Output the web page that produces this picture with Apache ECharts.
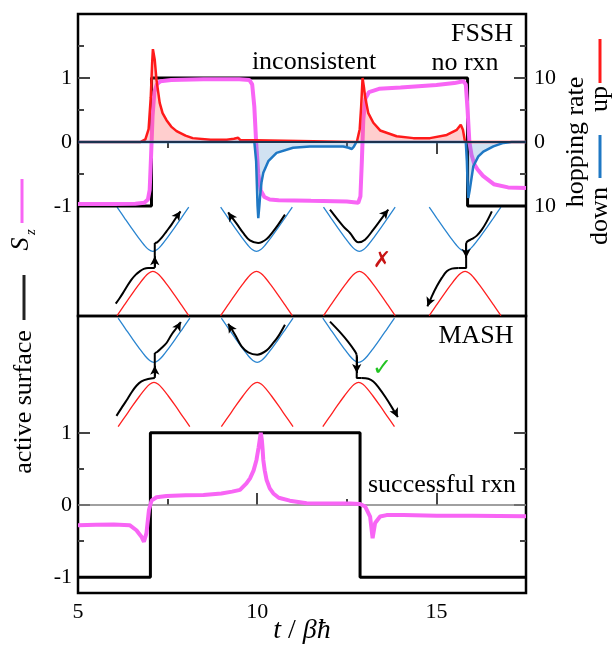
<!DOCTYPE html>
<html><head><meta charset="utf-8">
<script src="https://cdn.jsdelivr.net/npm/echarts@6/dist/echarts.min.js"></script>
<style>html,body{margin:0;padding:0;background:#fff}#c{width:612px;height:646px}</style>
</head><body><div id="c"></div>
<script>
// ---------------- DATA ----------------
const xMajorTicks = [10, 15];
const xMinorTicks = [7.5, 12.5];
const xLabels = [5, 10, 15];
const topYMajor = [-1, 0, 1];
const topYMinor = [-0.5, 0.5, 1.5];
const rateMajor = [-10, 0, 10];
const rateMinor = [-5, 5, 15];
const botYMajor = [-1, 0, 1];
const botYMinor = [-0.5, 0.5];
const xRange = [5, 17.5];

// FSSH panel
const fsshActive = [[5,-1],[7.05,-1],[7.05,1],[15.87,1],[15.87,-1],[17.5,-1]];
const fsshSz = [[5.0,-0.97],[6.0,-0.97],[6.6,-0.965],[6.85,-0.95],[6.95,-0.9],[7.0,-0.75],[7.04,-0.2],[7.08,0.4],[7.13,0.78],[7.2,0.9],[7.3,0.95],[7.6,0.97],[8.5,0.98],[9.5,0.98],[9.78,0.97],[9.86,0.9],[9.92,0.55],[9.97,0.0],[10.03,-0.5],[10.1,-0.76],[10.2,-0.86],[10.35,-0.9],[10.6,-0.91],[11.5,-0.92],[12.5,-0.93],[12.82,-0.95],[12.88,-0.85],[12.92,-0.3],[12.96,0.35],[13.02,0.68],[13.12,0.78],[13.4,0.83],[14.0,0.85],[14.5,0.87],[15.0,0.89],[15.5,0.92],[15.75,0.95],[15.82,0.9],[15.87,0.5],[15.92,0.0],[15.98,-0.2],[16.06,-0.35],[16.15,-0.43],[16.3,-0.53],[16.6,-0.66],[17.0,-0.71],[17.5,-0.72]];
const fsshUpRate = [[5,0],[6.75,0],[6.88,0.4],[6.97,2],[7.03,7],[7.07,12.5],[7.09,14.5],[7.14,12.9],[7.19,9.7],[7.28,6.1],[7.36,4.5],[7.47,3.4],[7.6,2.4],[7.75,1.7],[8.0,1.0],[8.2,0.6],[8.7,0.35],[9.15,0.35],[9.35,0.5],[9.47,0.65],[9.53,0.3],[9.58,0],[12.78,0],[12.86,2],[12.9,5.5],[12.94,10],[12.98,8.5],[13.01,7.1],[13.1,4.5],[13.24,3.0],[13.43,1.8],[13.89,0.9],[14.36,0.6],[14.82,0.6],[15.29,1.1],[15.57,1.9],[15.68,2.7],[15.74,1.9],[15.8,0],[17.5,0]];
const fsshDownRate = [[5,0],[9.92,0],[9.97,-3],[10.01,-10],[10.03,-11.9],[10.06,-10],[10.08,-8.5],[10.12,-6.3],[10.17,-4.8],[10.31,-3.0],[10.54,-1.7],[11.0,-0.9],[11.47,-0.7],[11.94,-0.7],[12.4,-0.7],[12.55,-0.9],[12.64,-1.1],[12.7,-0.7],[12.77,0],[15.82,0],[15.85,-3],[15.87,-6.5],[15.89,-8.75],[15.93,-7.5],[15.96,-6.4],[16.03,-3.8],[16.17,-2.25],[16.31,-1.5],[16.59,-0.7],[16.87,-0.15],[17.1,0],[17.5,0]];

// MASH panel
const mashActive = [[5,-1],[7.02,-1],[7.02,1],[12.87,1],[12.87,-1],[17.5,-1]];
const mashSz = [[5,-0.28],[5.5,-0.275],[6.0,-0.27],[6.44,-0.28],[6.63,-0.35],[6.77,-0.44],[6.84,-0.51],[6.91,-0.39],[6.98,-0.07],[7.05,0.06],[7.19,0.107],[7.47,0.125],[8.0,0.135],[8.5,0.14],[9.0,0.16],[9.3,0.185],[9.52,0.21],[9.7,0.3],[9.8,0.37],[9.9,0.48],[9.98,0.625],[10.04,0.8],[10.07,0.9],[10.1,1.0],[10.13,0.9],[10.15,0.78],[10.17,0.625],[10.21,0.48],[10.26,0.35],[10.35,0.23],[10.45,0.16],[10.6,0.1],[10.91,0.06],[11.38,0.025],[12.0,0.02],[12.6,0.02],[12.87,0.015],[13.01,-0.02],[13.15,-0.16],[13.22,-0.46],[13.29,-0.25],[13.43,-0.16],[13.61,-0.14],[14.08,-0.14],[15.01,-0.15],[16.0,-0.15],[17.5,-0.155]];

// potential-energy sketches (offset in t from centre, value)
const diagramDt = [-1,-0.8,-0.6,-0.4,-0.25,-0.12,0,0.12,0.25,0.4,0.6,0.8,1];
const fsshUpper = [-1.019,-1.182,-1.343,-1.498,-1.606,-1.681,-1.71,-1.681,-1.606,-1.498,-1.343,-1.182,-1.019];
const fsshLower = [-2.713,-2.55,-2.389,-2.234,-2.126,-2.051,-2.022,-2.051,-2.126,-2.234,-2.389,-2.55,-2.713];
const mashUpper = [2.59,2.446,2.303,2.165,2.069,2.003,1.977,2.003,2.069,2.165,2.303,2.446,2.59];
const mashLower = [1.085,1.229,1.373,1.511,1.607,1.673,1.699,1.673,1.607,1.511,1.373,1.229,1.085];
const fsshCenters = [7.09, 9.98, 12.85, 15.8];
const mashCenters = [7.12, 10.0, 12.83];

// trajectories (polylines) and arrowheads [from, tip]
const fsshPaths = [
  [[6.053,-2.527],[6.165,-2.438],[6.257,-2.359],[6.369,-2.256],[6.492,-2.152],[6.612,-2.073],[6.723,-2.022],[6.835,-1.984],[6.955,-1.969],[7.142,-1.969]],
  [[7.142,-1.969],[7.142,-1.578]],
  [[7.142,-1.578],[7.207,-1.569],[7.33,-1.5],[7.469,-1.397],[7.609,-1.292],[7.749,-1.172],[7.821,-1.109]],
  [[10.774,-1.136],[10.587,-1.292],[10.447,-1.397],[10.263,-1.516],[10.028,-1.578],[9.796,-1.538],[9.609,-1.422],[9.425,-1.277],[9.237,-1.136]],
  [[12.031,-1.058],[12.402,-1.319],[12.589,-1.422],[12.821,-1.569],[13.008,-1.527],[13.24,-1.37],[13.427,-1.23],[13.615,-1.084]],
  [[16.547,-1.084],[16.408,-1.241],[16.268,-1.37],[16.128,-1.464],[15.989,-1.516],[15.866,-1.553],[15.83,-1.578]],
  [[15.83,-1.578],[15.83,-1.969],[15.615,-1.969]],
  [[15.615,-1.969],[15.43,-1.98],[15.29,-2.022],[15.151,-2.125],[15.011,-2.256],[14.872,-2.413],[14.777,-2.542]]
];
const fsshArrows = [
  [[7.142,-1.95],[7.142,-1.787]],
  [[7.79,-1.14],[7.86,-1.084]],
  [[9.3,-1.19],[9.19,-1.1]],
  [[13.58,-1.11],[13.659,-1.058]],
  [[15.83,-1.6],[15.83,-1.81]],
  [[14.8,-2.5],[14.749,-2.569]]
];
const mashPaths = [
  [[6.073,1.236],[6.212,1.343],[6.352,1.449],[6.492,1.56],[6.631,1.653],[6.771,1.713],[6.955,1.746],[7.142,1.76]],
  [[7.142,1.76],[7.142,2.107]],
  [[7.142,2.107],[7.207,2.121],[7.33,2.176],[7.469,2.246],[7.609,2.361],[7.749,2.454],[7.841,2.524]],
  [[10.774,2.5],[10.587,2.338],[10.447,2.246],[10.263,2.143],[10.0,2.083],[9.749,2.115],[9.564,2.199],[9.405,2.338],[9.237,2.486]],
  [[12.031,2.542],[12.31,2.396],[12.533,2.264],[12.729,2.129],[12.777,2.083]],
  [[12.777,2.083],[12.777,1.76],[12.916,1.76]],
  [[12.916,1.76],[13.101,1.75],[13.24,1.713],[13.38,1.635],[13.567,1.504],[13.754,1.357],[13.894,1.236]]
];
const mashArrows = [
  [[7.142,1.78],[7.142,1.931]],
  [[7.8,2.48],[7.869,2.538]],
  [[9.28,2.44],[9.19,2.514]],
  [[12.777,2.06],[12.777,1.829]],
  [[13.87,1.27],[13.922,1.218]]
];

// ---------------- CHART ----------------
const F = 'Liberation Serif';
const BLUE = '#1f78c4', RED = '#ff1a1a', PINK = '#f865f5', THIN_BLUE = '#2a85d0';
const chart = echarts.init(document.getElementById('c'));

const tickStyle = {color:'#444', width:2};
const labelStyle = {fontFamily:F, fontSize:22, color:'#000'};
function xAx(grid, pos, ticks, len, labels) {
  return {type:'value', gridIndex:grid, position:pos, min:xRange[0], max:xRange[1],
    axisLine:{show:false}, splitLine:{show:false},
    axisTick:{show:true, inside:true, length:len, customValues:ticks, lineStyle:tickStyle},
    axisLabel: labels ? Object.assign({show:true, customValues:labels, margin:8}, labelStyle) : {show:false}};
}
function yAx(grid, pos, min, max, ticks, len, labels, fmt) {
  return {type:'value', gridIndex:grid, position:pos, min:min, max:max,
    axisLine:{show:false}, splitLine:{show:false},
    axisTick:{show:true, inside:true, length:len, customValues:ticks, lineStyle:tickStyle},
    axisLabel: labels ? Object.assign({show:true, customValues:labels, margin: pos==='right'?8:6, formatter:fmt}, labelStyle) : {show:false}};
}

const series = [];
function thin(xi, yi, data, color) {
  series.push({type:'line', xAxisIndex:xi, yAxisIndex:yi, data:data, smooth:0.4, symbol:'none',
    lineStyle:{color:color, width:1.3}, z:2, silent:true});
}
fsshCenters.forEach(c => {
  thin(0, 0, diagramDt.map((d,i)=>[c+d, fsshUpper[i]]), THIN_BLUE);
  thin(0, 0, diagramDt.map((d,i)=>[c+d, fsshLower[i]]), '#ff2020');
});
mashCenters.forEach(c => {
  thin(2, 4, diagramDt.map((d,i)=>[c+d, mashUpper[i]]), THIN_BLUE);
  thin(2, 4, diagramDt.map((d,i)=>[c+d, mashLower[i]]), '#ff2020');
});
function paths(xi, yi, list, arrows) {
  list.forEach((p, k) => {
    const s = {type:'line', xAxisIndex:xi, yAxisIndex:yi, data:p, smooth: p.length>3 ? 0.35 : false, symbol:'none',
      lineStyle:{color:'#000', width:2}, z:3, silent:true};
    if (k === 0) {
      s.markLine = {silent:true, symbol:['none','arrow'], symbolSize:[7,9], animation:false,
        lineStyle:{color:'#000', width:2, type:'solid'}, label:{show:false},
        data: arrows.map(a => [{coord:a[0]}, {coord:a[1]}])};
    }
    series.push(s);
  });
}
paths(0, 0, fsshPaths, fsshArrows);
paths(2, 4, mashPaths, mashArrows);

// FSSH main curves
series.push({type:'line', xAxisIndex:0, yAxisIndex:0, data:fsshActive, symbol:'none', lineStyle:{color:'#000', width:3}, z:4});
series.push({type:'line', xAxisIndex:0, yAxisIndex:0, data:fsshSz, symbol:'none', lineStyle:{color:PINK, width:4}, z:5});
series.push({type:'line', xAxisIndex:0, yAxisIndex:2, data:fsshUpRate, symbol:'none', lineStyle:{color:RED, width:2.5}, areaStyle:{color:'rgba(255,90,90,0.42)', origin:0}, z:6});
series.push({type:'line', xAxisIndex:0, yAxisIndex:2, data:fsshDownRate, symbol:'none', lineStyle:{color:BLUE, width:2.5}, areaStyle:{color:'rgba(70,140,205,0.36)', origin:0}, z:7});
// zero baseline of the hopping rates
series.push({type:'line', xAxisIndex:0, yAxisIndex:2, data:[[xRange[0],0],[xRange[1],0]], symbol:'none', lineStyle:{color:'#1c3350', width:2}, z:8, silent:true});

// MASH main curves
series.push({type:'line', xAxisIndex:2, yAxisIndex:4, data:[[xRange[0],0],[xRange[1],0]], symbol:'none', lineStyle:{color:'#808080', width:1.6}, z:3, silent:true});
series.push({type:'line', xAxisIndex:2, yAxisIndex:4, data:mashActive, symbol:'none', lineStyle:{color:'#000', width:3}, z:4});
series.push({type:'line', xAxisIndex:2, yAxisIndex:4, data:mashSz, symbol:'none', lineStyle:{color:PINK, width:4}, z:5});

const txt = (x, y, text, extra) => Object.assign({type:'text', x:x, y:y, silent:true,
  style:Object.assign({text:text, fontFamily:F, fontSize:26, fill:'#000', align:'center', verticalAlign:'middle'}, extra||{})});
const rot = (x, y, text, extra) => Object.assign(txt(x, y, text, extra), {rotation:Math.PI/2});
const seg = (x, y1, y2, color) => ({type:'line', silent:true, shape:{x1:x, y1:y1, x2:x, y2:y2}, style:{stroke:color, lineWidth:3}});

chart.setOption({
  animation:false,
  backgroundColor:'#fff',
  grid:[
    {left:78, top:14, width:448, height:302, show:true, borderColor:'#000', borderWidth:2.5, backgroundColor:'transparent'},
    {left:78, top:316, width:448, height:277, show:true, borderColor:'#000', borderWidth:2.5, backgroundColor:'transparent'}
  ],
  xAxis:[
    xAx(0,'top',xMajorTicks,12,null),
    xAx(0,'top',xMinorTicks,6,null),
    xAx(1,'bottom',xMajorTicks,12,xLabels),
    xAx(1,'bottom',xMinorTicks,6,null)
  ],
  yAxis:[
    yAx(0,'left',-2.72,2,topYMajor,12,topYMajor),
    yAx(0,'left',-2.72,2,topYMinor,6,null),
    yAx(0,'right',-27.2,20,rateMajor,12,rateMajor,v=>String(Math.abs(v))),
    yAx(0,'right',-27.2,20,rateMinor,6,null),
    yAx(1,'left',-1.22,2.62,botYMajor,12,botYMajor),
    yAx(1,'left',-1.22,2.62,botYMinor,6,null),
    yAx(1,'right',-1.22,2.62,botYMajor,12,null),
    yAx(1,'right',-1.22,2.62,botYMinor,6,null)
  ],
  series:series,
  graphic:[
    txt(482, 34, 'FSSH'),
    txt(314, 62, 'inconsistent'),
    txt(465, 63, 'no rxn'),
    txt(476, 336, 'MASH'),
    txt(442, 485, 'successful rxn'),
    txt(382, 261, '\u2717', {fontFamily:'DejaVu Sans', fontSize:22, fill:'#c81414', fontWeight:'bold'}),
    txt(382, 369, '\u2713', {fontFamily:'DejaVu Sans', fontSize:24, fill:'#22c422', fontWeight:'bold'}),
    txt(302, 631, '{i|t} / {i|\u03b2\u0127}', {rich:{i:{fontFamily:F, fontSize:28, fontStyle:'italic'}}, fontSize:28}),
    // left axis legend
    seg(22, 179, 223, PINK),
    rot(21, 244, 'S', {fontStyle:'italic'}),
    rot(31, 232, 'z', {fontStyle:'italic', fontSize:15}),
    seg(24, 275, 320, '#222'),
    rot(24, 402, 'active surface'),
    // right axis legend
    rot(576, 142, 'hopping rate'),
    rot(600, 99, 'up'),
    seg(600, 39, 83, RED),
    rot(600, 216, 'down'),
    seg(600, 135, 178, BLUE)
  ]
});
</script></body></html>
